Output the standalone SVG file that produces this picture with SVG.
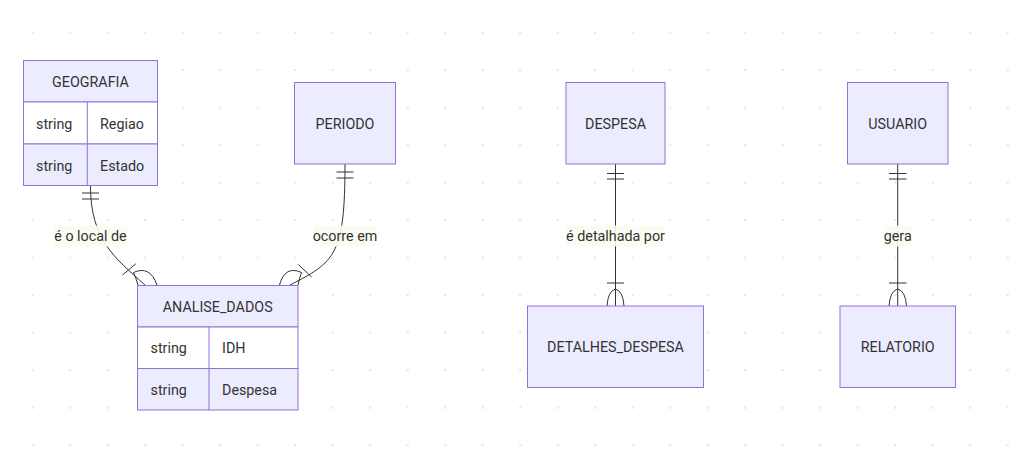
<svg xmlns="http://www.w3.org/2000/svg" width="1016" height="476" viewBox="0 0 1016 476">
<defs>
<pattern id="dots" x="0" y="0" width="37.5" height="37.5" patternUnits="userSpaceOnUse">
<rect x="31.6" y="31.6" width="2.2" height="2.2" fill="#e6e6e6"/>
</pattern>
</defs>
<style>
.ent{fill:#ECECFF;stroke:#9370DB;stroke-width:1}
.odd{fill:#ffffff;stroke:#9370DB;stroke-width:1}
.even{fill:#ECECFF;stroke:#9370DB;stroke-width:1}
.div{stroke:#9370DB;stroke-width:1}
text{font-family:Roboto,"Liberation Sans",sans-serif;font-size:14.3px;fill:#333333;dominant-baseline:central}
.c{text-anchor:middle}
.rel{fill:none;stroke:#333333;stroke-width:1}
.mk{fill:none;stroke:#333333;stroke-width:1}
.lbg{fill:#fafcf1;opacity:0.9}
</style>
<rect width="1016" height="476" fill="#ffffff"/>
<rect width="1016" height="476" fill="url(#dots)"/>

<g id="connectors">
<!-- GEOGRAFIA - ANALISE_DADOS -->
<path class="rel" d="M90.5,186 C90.5,240 115,258 145,285"/>
<path class="mk" d="M82,193 L99,193 M82,199 L99,199"/>
<path class="mk" d="M122.5,275 L135.8,263.8"/>
<path class="mk" d="M133.5,272.5 Q136,278 138,285 M133.5,272.5 Q150,265 157,285"/>
<!-- PERIODO - ANALISE_DADOS -->
<path class="rel" d="M345,164 C345,255 335,262 290,285"/>
<path class="mk" d="M336.5,172 L353.5,172 M336.5,178 L353.5,178"/>
<path class="mk" d="M298.3,264.5 L311.7,277"/>
<path class="mk" d="M301.5,272.5 Q299.5,278 298,285 M301.5,272.5 Q285,265 279.5,285"/>
<!-- DESPESA - DETALHES_DESPESA -->
<path class="rel" d="M615.5,164 L615.5,306"/>
<path class="mk" d="M607,173.5 L624,173.5 M607,179 L624,179"/>
<path class="mk" d="M607,283 L624,283"/>
<path class="mk" d="M607,306 Q608,291 615.5,289 Q623,291 624,306"/>
<!-- USUARIO - RELATORIO -->
<path class="rel" d="M897.7,164 L897.7,306"/>
<path class="mk" d="M889,173.5 L906.5,173.5 M889,179 L906.5,179"/>
<path class="mk" d="M889,283 L906.5,283"/>
<path class="mk" d="M889,306 Q890,291 897.7,289 Q905.5,291 906.5,306"/>
<!-- labels -->
<rect class="lbg" x="54" y="225.5" width="73" height="21"/>
<text class="c" x="90.5" y="236">é o local de</text>
<rect class="lbg" x="314" y="225.5" width="62" height="21"/>
<text class="c" x="345" y="236">ocorre em</text>
<rect class="lbg" x="566.5" y="225.5" width="98" height="21"/>
<text class="c" x="615.5" y="236">é detalhada por</text>
<rect class="lbg" x="884" y="225.5" width="27.5" height="21"/>
<text class="c" x="897.7" y="236">gera</text>
</g>

<g id="GEOGRAFIA">
<rect class="ent" x="23.5" y="60.5" width="134" height="41.5"/>
<rect class="odd" x="23.5" y="102" width="134" height="42"/>
<rect class="even" x="23.5" y="144" width="134" height="41.5"/>
<line class="div" x1="87.3" y1="102" x2="87.3" y2="185.5"/>
<text class="c" x="90.5" y="81.5">GEOGRAFIA</text>
<text x="36" y="123.5">string</text>
<text x="100" y="123.5">Regiao</text>
<text x="36" y="165.5">string</text>
<text x="100" y="165.5">Estado</text>
</g>

<g id="PERIODO">
<rect class="ent" x="294.5" y="82.5" width="101" height="81.5"/>
<text class="c" x="345" y="123.5">PERIODO</text>
</g>

<g id="ANALISE_DADOS">
<rect class="ent" x="137.5" y="285.5" width="160.5" height="41.5"/>
<rect class="odd" x="137.5" y="327" width="160.5" height="41.5"/>
<rect class="even" x="137.5" y="368.5" width="160.5" height="41.5"/>
<line class="div" x1="209" y1="327" x2="209" y2="410"/>
<text class="c" x="217.7" y="306.5">ANALISE_DADOS</text>
<text x="150.5" y="348">string</text>
<text x="222" y="348">IDH</text>
<text x="150.5" y="389.5">string</text>
<text x="222" y="389.5">Despesa</text>
</g>

<g id="DESPESA">
<rect class="ent" x="566" y="82.5" width="99" height="81.5"/>
<text class="c" x="615.5" y="123.5">DESPESA</text>
</g>

<g id="DETALHES_DESPESA">
<rect class="ent" x="527.5" y="306" width="176" height="81.5"/>
<text class="c" x="615.5" y="347">DETALHES_DESPESA</text>
</g>

<g id="USUARIO">
<rect class="ent" x="847.5" y="82.5" width="100.5" height="81.5"/>
<text class="c" x="897.7" y="123.5">USUARIO</text>
</g>

<g id="RELATORIO">
<rect class="ent" x="840" y="306" width="115.5" height="81.5"/>
<text class="c" x="897.7" y="347">RELATORIO</text>
</g>
</svg>
